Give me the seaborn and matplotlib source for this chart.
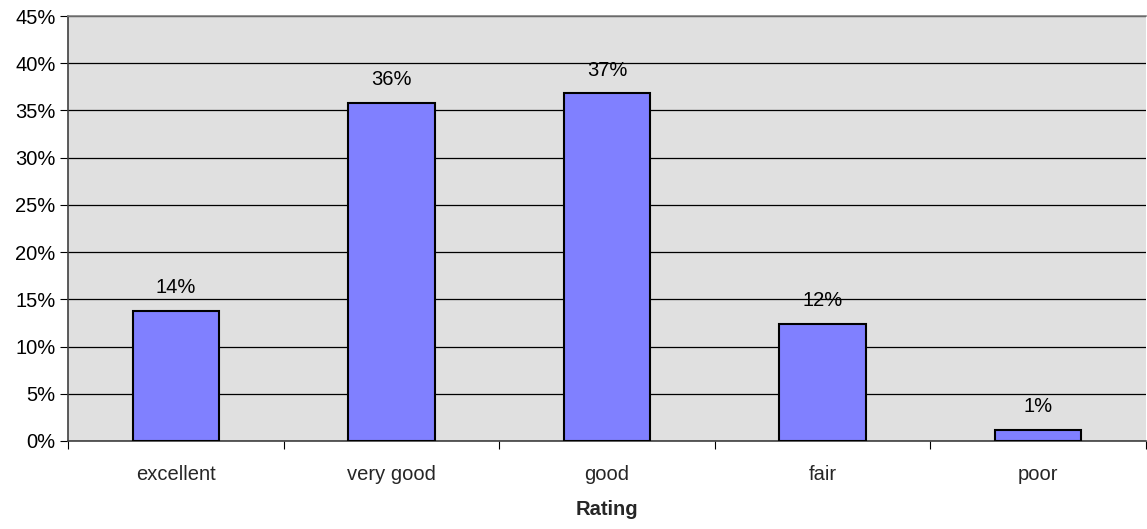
import matplotlib
matplotlib.use("Agg")
import matplotlib.pyplot as plt
import seaborn as sns
import pandas as pd
import numpy as np
from matplotlib.ticker import FuncFormatter, FixedLocator

# === data ===
ratings = ["excellent", "very good", "good", "fair", "poor"]
shares = [13.8, 35.8, 36.8, 12.4, 1.2]
labels = ["14%", "36%", "37%", "12%", "1%"]

df = pd.DataFrame({"rating": ratings, "share": shares})

sns.set_theme(style="white")
plt.rcParams["font.family"] = ["Liberation Sans", "DejaVu Sans"]

fig = plt.figure(figsize=(11.47, 5.29), dpi=100)
ax = fig.add_axes([68 / 1147, 1 - 441 / 529, 1 - 68 / 1147 - 1 / 1147, (441 - 16) / 529])
ax.set_facecolor("#E0E0E0")

sns.barplot(data=df, x="rating", y="share", color="#8080FF", saturation=1,
            width=0.40, edgecolor="black", linewidth=1.5, ax=ax, zorder=3)

for i, (v, t) in enumerate(zip(shares, labels)):
    ax.text(i, v + 1.9, t, ha="center", va="baseline", fontsize=14.5, color="black")

ax.set_xlim(-0.5, 4.5)
ax.set_ylim(0, 45)
ax.set_yticks(np.arange(0, 46, 5))
ax.yaxis.set_major_formatter(FuncFormatter(lambda v, p: f"{v:.0f}%"))
ax.yaxis.grid(True, color="black", linewidth=0.9, zorder=0)
ax.set_axisbelow(True)

# category ticks sit at boundaries, labels in the middle
ax.xaxis.set_major_locator(FixedLocator(np.arange(-0.5, 5, 1)))
ax.xaxis.set_major_formatter(FuncFormatter(lambda v, p: ""))
ax.set_xticks(np.arange(0, 5), minor=True)
ax.set_xticklabels(ratings, minor=True)
ax.tick_params(axis="x", which="major", direction="out", length=6, width=0.8, color="#404040")
ax.tick_params(axis="x", which="minor", length=0, labelsize=14.5, pad=17)
ax.tick_params(axis="y", direction="out", length=6, width=0.8, color="#404040", labelsize=14.5, pad=3)
ax.tick_params(axis="both", colors="black", bottom=True, left=True)

ax.set_xlabel("Rating", fontsize=14.5, fontweight="bold", labelpad=12)
ax.set_ylabel("")

for s in ["left", "bottom"]:
    ax.spines[s].set_color("#404040")
    ax.spines[s].set_linewidth(1.2)
ax.spines["top"].set_color("#808080")
ax.spines["top"].set_linewidth(1.2)
ax.spines["right"].set_visible(False)

fig.savefig("out.png", dpi=100)
